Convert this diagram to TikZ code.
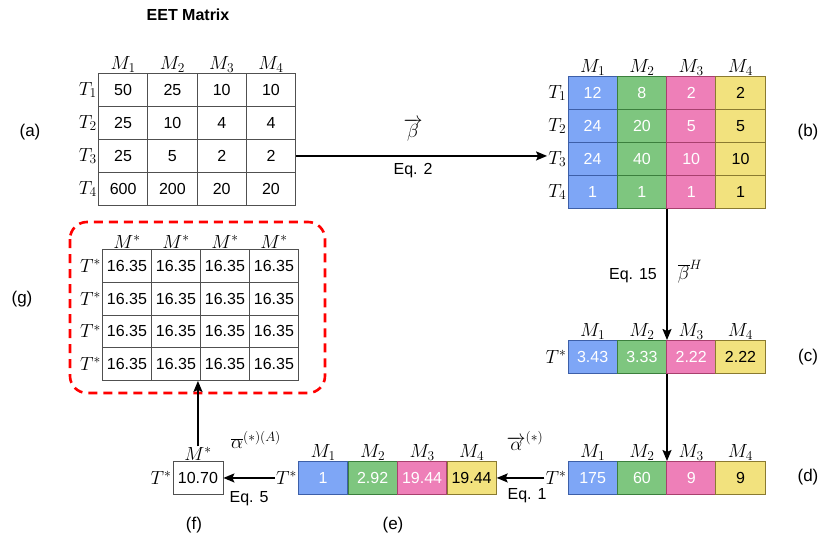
\RequirePackage{fix-cm}
\documentclass[tikz,border=0pt]{standalone}
\usepackage{fontspec}
\setmainfont{Liberation Sans}
\DeclareMathSizes{16}{19}{13.5}{10}
\usetikzlibrary{arrows.meta,calc}
\definecolor{cblue}{HTML}{7EA6F6}
\definecolor{cblueD}{HTML}{3D5FA8}
\definecolor{cgreen}{HTML}{7EC67F}
\definecolor{cgreenD}{HTML}{3B7F3D}
\definecolor{cpink}{HTML}{EE7FB8}
\definecolor{cpinkD}{HTML}{A8406E}
\definecolor{cyel}{HTML}{F2E27E}
\definecolor{cyelD}{HTML}{8A7A30}
\definecolor{cgrid}{HTML}{505050}
\begin{document}
\fontsize{16}{19}\selectfont
\begin{tikzpicture}[x=1pt,y=-1pt,font=\fontsize{16}{19}\selectfont,
  cell/.style={draw=cgrid,line width=0.9pt,minimum width=49.3pt,minimum height=33pt,inner sep=0pt,anchor=north west},
  gcell/.style={cell,minimum height=32.75pt,minimum width=49pt},
  col1/.style={fill=cblue,draw=cblueD,text=white},
  col2/.style={fill=cgreen,draw=cgreenD,text=white},
  col3/.style={fill=cpink,draw=cpinkD,text=white},
  col4/.style={fill=cyel,draw=cyelD,text=black},
  clab/.style={anchor=south,inner sep=0.5pt},
  rlab/.style={anchor=east,inner sep=1pt},
  tag/.style={font=\fontsize{17}{20}\selectfont},
  conn/.style={-{Stealth[length=11pt,width=9pt,inset=2pt]},line width=1.6pt}]
\useasboundingbox (0,0) rectangle (831,543);

\node[font=\bfseries\fontsize{16}{19}\selectfont] (title) at (188,15) {EET Matrix};

% (a)
\foreach \r/\vals in {1/{50,25,10,10},2/{25,10,4,4},3/{25,5,2,2},4/{600,200,20,20}}{
  \foreach \v [count=\c] in \vals {
    \node[cell] (a-\r-\c) at ({98+(\c-1)*49.3},{73+(\r-1)*33}) {\v};
  }
  \node[rlab] (aT\r) at (a-\r-1.west) {$T_\r$};
}
\foreach \c in {1,...,4}{\node[clab] (aM\c) at (a-1-\c.north) {$M_\c$};}
\node[tag] (taga) at (30,132) {(a)};

% (b)
\foreach \r/\vals in {1/{12,8,2,2},2/{24,20,5,5},3/{24,40,10,10},4/{1,1,1,1}}{
  \foreach \v [count=\c] in \vals {
    \node[cell,col\c] (b-\r-\c) at ({567.5+(\c-1)*49.3},{76+(\r-1)*33}) {\v};
  }
  \node[rlab] (bT\r) at (b-\r-1.west) {$T_\r$};
}
\foreach \c in {1,...,4}{\node[clab] (bM\c) at (b-1-\c.north) {$M_\c$};}
\node[tag] (tagb) at (808,132) {(b)};

% (c)
\foreach \v [count=\c] in {3.43,3.33,2.22,2.22}{
  \node[cell,col\c] (c-\c) at ({567.5+(\c-1)*49.3},340) {\v};
  \node[clab] (cM\c) at (c-\c.north) {$M_\c$};
}
\node[rlab] (cT) at (c-1.west) {$T^*$};
\node[tag] (tagc) at (808,357) {(c)};

% (d)
\foreach \v [count=\c] in {175,60,9,9}{
  \node[cell,col\c] (d-\c) at ({567.5+(\c-1)*49.3},461) {\v};
  \node[clab] (dM\c) at (d-\c.north) {$M_\c$};
}
\node[rlab] (dT) at (d-1.west) {$T^*$};
\node[tag] (tagd) at (808,477) {(d)};

% (e)
\foreach \v [count=\c] in {1,2.92,19.44,19.44}{
  \node[cell,col\c] (e-\c) at ({298+(\c-1)*49.5},461) {\v};
  \node[clab] (eM\c) at (e-\c.north) {$M_\c$};
}
\node[rlab] (eT) at (e-1.west) {$T^*$};
\node[tag] (tage) at (393,525) {(e)};

% (f)
\node[cell,minimum width=50pt] (f) at (172.5,461) {10.70};
\node[clab] (fM) at (f.north) {$M^*$};
\node[rlab] (fT) at (f.west) {$T^*$};
\node[tag] (tagf) at (194,525) {(f)};

% (g)
\foreach \r in {1,...,4}{
  \foreach \c in {1,...,4}{
    \node[gcell] (g-\r-\c) at ({102+(\c-1)*49},{249+(\r-1)*32.75}) {16.35};
  }
  \node[rlab] (gT\r) at (g-\r-1.west) {$T^*$};
}
\foreach \c in {1,...,4}{\node[clab] (gM\c) at (g-1-\c.north) {$M^*$};}
\draw[red,line width=2.6pt,dash pattern=on 9pt off 6pt,rounded corners=17pt] (70,222) rectangle (325,393);
\node[tag] (tagg) at (22,299) {(g)};

% connectors
\draw[conn] (a-3-4.east) -- (a-3-4.east -| bT3.west);
\node (lbeta) at (413,130) {$\overrightarrow{\beta}$};
\node (leq2) at (413,171) {Eq. 2};

\draw[conn] (b-4-2.south east) -- (c-2.north east);
\node (leq15) at (633,276) {Eq. 15};
\node (lbetaH) at (690,272) {$\overline{\beta}^{H}$};
\draw[conn] (c-2.south east) -- (d-2.north east);

\draw[conn] (dT.west) -- (e-4.east);
\node (lalpha) at (525,441) {$\overrightarrow{\alpha}^{(*)}$};
\node (leq1) at (527,496) {Eq. 1};

\draw[conn] (eT.west) -- (f.east);
\node (lalphaA) at (256,440) {$\overline{\alpha}^{(*)(A)}$};
\node (leq5) at (249,499) {Eq. 5};

\coordinate (gin) at (fM.north |- g-4-2.south);
\draw[conn] (fM.north) -- (gin);
\end{tikzpicture}
\end{document}
